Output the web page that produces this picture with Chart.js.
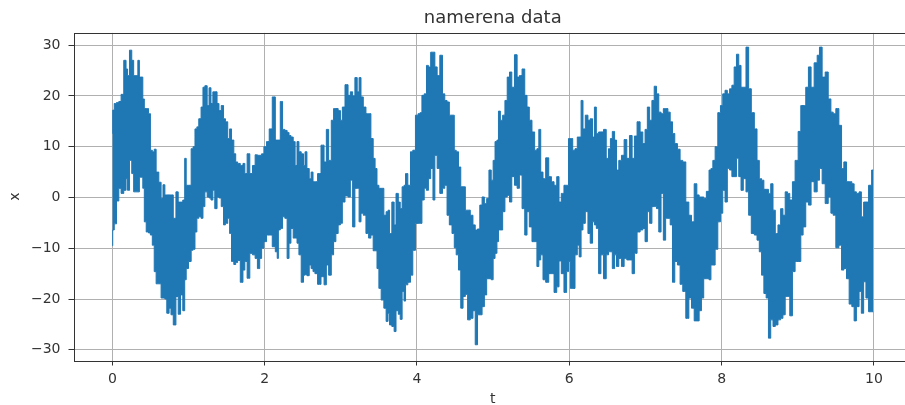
<!DOCTYPE html>
<html>
<head>
<meta charset="utf-8">
<style>
  html, body { margin: 0; padding: 0; background: #fff; overflow: hidden; }
  canvas { display: block; filter: blur(0.5px); }
</style>
<script src="https://cdn.jsdelivr.net/npm/chart.js@4"></script>
</head>
<body>
<canvas id="chart" width="985" height="405" style="width:985px;height:405px"></canvas>
<script>
const chartTitle = 'namerena data';
const xTicks = [0, 2, 4, 6, 8, 10];
const yTicks = [-30, -20, -10, 0, 10, 20, 30];

// for each time, the top and the bottom of the noise band
const tValues = [
  0,.01,.04,.07,.1,.13,.17,.19,.21,.24,
  .27,.29,.32,.35,.36,.39,.41,.43,.46,.49,
  .51,.54,.56,.59,.63,.65,.68,.7,.73,.76,
  .78,.82,.85,.88,.91,.94,.96,.98,1.02,1.05,
  1.07,1.1,1.12,1.15,1.18,1.2,1.23,1.26,1.28,1.31,
  1.33,1.36,1.39,1.41,1.45,1.47,1.5,1.53,1.55,1.58,
  1.61,1.63,1.66,1.7,1.73,1.75,1.79,1.82,1.86,1.89,
  1.92,1.95,1.97,2.01,2.04,2.08,2.12,2.16,
  2.17,2.19,2.22,2.25,2.28,2.31,2.33,2.36,2.39,2.41,
  2.44,2.46,2.5,2.52,2.54,2.57,2.6,2.62,2.65,2.67,
  2.72,2.76,2.8,2.82,2.86,2.89,2.92,2.95,2.98,3.01,
  3.03,3.08,3.11,3.14,3.17,3.2,3.23,3.25,3.28,3.31,
  3.35,3.38,3.41,3.44,3.46,3.49,3.51,3.55,3.58,3.61,
  3.63,3.65,3.69,3.71,3.74,3.77,3.79,3.82,3.84,3.86,
  3.9,3.93,3.96,4,4.03,4.05,4.08,4.11,4.14,4.16,
  4.2,4.22,4.25,4.28,4.32,4.35,4.38,4.41,4.44,4.48,
  4.5,4.53,4.56,4.59,4.62,4.65,4.68,4.72,4.75,4.78,
  4.81,4.84,4.87,4.9,4.93,4.96,
  4.99,5.01,5.04,5.06,5.08,5.11,5.14,5.17,5.2,5.23,
  5.26,5.3,5.33,5.36,5.4,5.43,5.46,5.49,5.53,5.56,
  5.59,5.61,5.64,5.67,5.71,5.75,5.78,5.82,5.85,5.88,
  5.91,5.95,5.98,6,6.03,6.06,6.09,6.12,6.14,6.17,
  6.19,6.23,6.26,6.29,6.32,6.34,6.37,6.4,6.43,6.47,
  6.5,6.53,6.55,6.58,6.61,6.63,6.67,6.7,6.74,6.77,
  6.81,6.84,6.87,6.91,6.95,6.98,7.01,7.04,7.07,7.1,
  7.13,7.16,7.19,7.22,7.25,7.28,7.31,7.34,7.37,7.4,
  7.44,7.47,7.51,7.55,7.59,7.62,7.66,7.69,
  7.72,7.75,7.78,7.82,7.85,7.87,7.9,7.93,7.97,8,
  8.03,8.06,8.09,8.12,8.15,8.18,8.21,8.24,8.27,8.3,
  8.34,8.37,8.41,8.45,8.48,8.51,8.54,8.57,8.6,8.63,
  8.66,8.69,8.72,8.76,8.79,8.82,8.85,8.88,8.91,8.95,
  8.98,9.03,9.05,9.09,9.12,9.16,9.19,9.24,9.27,9.3,
  9.34,9.38,9.42,9.45,9.48,9.52,9.56,9.59,9.62,9.66,
  9.69,9.73,9.75,9.79,9.82,9.85,9.88,9.91,9.95,9.99
];
const xUpper = [
  12.6,17.2,18.5,18.7,18.9,20.3,27,25.3,24,29,
  27,24,24,27,23.7,23.7,19.4,17.5,17.5,16.5,
  9.3,9,9.5,5,3,-0.2,2.5,0.5,0.5,0.5,
  0.5,-4.1,1.1,-0.9,-0.9,-0.5,7.7,2.4,2.4,9.6,
  10,13.5,13.9,15.5,17.8,21.7,22,18.1,21.6,18.5,
  20.8,20.8,18.5,17.1,18.1,15.5,14.9,11.6,13.5,11.3,
  8.6,7,6.7,6.3,6.7,4.7,8.6,4.7,6.3,8.4,
  8.3,8.3,8.6,10,11,13.5,19.8,11.3,
  11.3,11.3,18.9,13.4,13.2,12.8,12.2,11.9,11,6.3,
  11,9,8.6,6.3,9,5.7,3.7,5,3.1,3.1,
  4.7,10.3,7,13.4,7.3,15.2,17.5,17.5,17.1,15.2,
  17.8,22.2,20.1,20.8,20,23.6,20.8,23.6,19.8,17.8,
  16.5,16.5,11.6,7.7,5.7,2.4,1.8,1.8,-3.5,-2.8,
  -2.5,-7.1,-0.9,-5.4,0.8,-0.9,-2.2,2.1,2.4,4.7,
  2.4,9,9.3,16.2,16.5,16.7,20.1,20.4,26,25.7,
  28.6,28.6,25.7,24,28,20.4,19.1,18.8,16.2,16.2,
  9.3,9,6,2.1,2.1,-2.5,-2.5,-3.5,-5.4,-6.4,
  -6.2,-1.5,0.1,-1.2,-0.2,5.4,
  3.4,7.3,11,11.3,17,15.2,16.2,19.1,23.7,24.7,
  21.7,28.1,23.7,24,25.3,20.1,17.8,15.2,12.9,9.3,
  9.6,13.4,5,3.7,7.8,4.1,3.1,2.4,4.1,-0.9,
  0.8,2.4,2.4,11.6,11.6,9.3,9.6,11.9,11.9,19.1,
  13.5,16.2,15.2,15.5,11.9,17.8,12.6,12.9,12.9,13.4,
  7.7,9.6,11.6,13,11.3,5.4,7.3,8.3,11.4,7.7,
  12.2,7.7,12.1,14.9,12.9,10.6,13.4,17.8,15.2,19.1,
  21.9,20.4,16.8,16.5,17.5,17.5,16.8,14.9,12.6,10.6,
  9.5,7.3,7,-0.9,-3.5,-4.8,2.7,0.5,
  0.1,0.1,-0.2,1.2,5.4,5.7,7.3,10,16.7,18.1,
  20.4,21.1,20.4,21.4,22.1,25.7,28.2,26,21.7,21.7,
  29.6,21.4,16.7,13.5,7.3,3.7,3.4,1.6,1.6,0.8,
  2.7,-2.5,-7.1,-5.4,-2.2,-3.5,1.1,0.8,-0.5,3.1,
  7.3,13,18.1,18.1,21.7,25.7,21.7,26.5,28,29.6,
  23.7,24.7,19.4,16.8,16.5,17.5,14.2,5.7,7,3.1,
  3.1,2.7,1.1,0.8,1.1,-3.8,-0.9,-0.9,2.4,5.4
];
const xLower = [
  -9.5,-6.4,-5.2,-0.7,1.8,0.8,1.4,3.7,1.4,7.3,
  4.7,1.1,1.1,1.1,4,4,1.8,-4.8,-6.8,-7,
  -7.4,-9.4,-14.6,-17,-17,-19.8,-19.8,-20,-22.8,-21.8,
  -23.1,-25.1,-19.5,-23,-19.2,-22.3,-16.2,-14,-12.6,-10.4,
  -10.2,-6.8,-4.1,-3.8,-4.1,-1.8,1.1,0.1,-0.1,-0.5,
  1.4,-2.2,0.1,-0.1,-1.8,-5.4,-5.1,-4.1,-7.1,-12.6,
  -13.2,-12.8,-12.4,-16.7,-14.3,-12.6,-15.9,-11,-11.3,-12,
  -14,-12,-10,-8.7,-7.4,-7.4,-9.7,-10.7,
  -12,-6.4,-6.1,-3.8,-4.1,-12,-9,-6.1,-8,-8,
  -9,-11.3,-16.7,-15.3,-15.2,-15.4,-13.3,-14,-14.6,-15,
  -17.1,-15.6,-17.2,-13.3,-15.3,-11.3,-8.7,-7.1,-5.4,-5.1,
  -0.9,0.3,0.1,3.4,-5.8,1.8,1.8,-4.8,-3.1,-3.5,
  -7.1,-8,-7.4,-10.5,-10.5,-14,-17.9,-20.2,-21.8,-24.4,
  -22.8,-25.1,-25.4,-26.4,-22.3,-23,-24,-18.5,-20.4,-17.2,
  -16.7,-15.3,-10.4,-5.1,-5.1,-5.1,-0.5,1.8,1.4,3.7,
  5.7,-0.5,8.3,5.7,0.8,1.8,2.4,-3.5,-5.4,-7.1,
  -9.9,-11.3,-14.3,-21.8,-19.5,-19.1,-24.1,-23.8,-22.3,-29,
  -23.1,-23.1,-21.5,-19.2,-16,-16,
  -16.2,-12,-11,-8.7,-6.4,-6.4,-2.8,0.1,0.4,-0.9,
  4.1,2.4,1.8,4.4,-2.2,-7.4,-2.8,-5.8,-8.7,-8.7,
  -13.6,-12.3,-11.3,-16.2,-16.7,-15,-15,-18.7,-17.6,-12.5,
  -15,-18.7,-14.6,-12.6,-17.9,-17.9,-11.3,-9.4,-11.7,-6.4,
  -5.1,-2.8,-7.1,-9,-4.8,-5.4,-6.1,-15,-11.3,-16,
  -11.3,-10.7,-10.7,-14,-11.3,-13.6,-12,-13.6,-12,-12.3,
  -12.3,-15,-11,-6.8,-6.4,-6.1,-8.7,-2.8,-5.1,-1.8,
  -1.8,-2.2,-6.8,0.8,-8.4,-4.1,-4.1,-5.4,-16.7,-12.6,
  -13.3,-17.1,-18.5,-23.8,-19.8,-21.8,-24.3,-24.3,
  -22.3,-19.8,-16,-16,-16.2,-13.3,-13.3,-10.2,-4.8,-3.1,
  1.4,-0.9,5.7,5.4,4.1,4.1,7.7,4.1,1.4,3.7,
  1.1,-3.5,-7.1,-7.4,-8.4,-10.7,-15.3,-18.9,-19.8,-27.7,
  -24.1,-25.4,-25.1,-24.1,-23.8,-23.1,-19.5,-19.5,-23.3,-14.6,
  -12.6,-12.6,-7.4,-5.8,-0.9,-1.5,3.1,1.1,3.4,5.7,
  2.7,-1.2,0.1,-3.1,-3.5,-9.9,-9.4,-14.3,-14,-16,
  -21,-21.5,-24.3,-21.5,-18.5,-22.8,-16.6,-19.8,-22.5,-22.5
];

const textColor = '#333333';
const lineColor = '#1f77b4';

// all four spines, so the axis lines themselves are switched off below
const frame = {
  id: 'frame',
  afterDatasetsDraw(chart) {
    const { ctx, chartArea } = chart;
    ctx.save();
    ctx.strokeStyle = textColor;
    ctx.lineWidth = 1;
    ctx.strokeRect(Math.round(chartArea.left) + 0.5, Math.round(chartArea.top) + 0.5,
      Math.round(chartArea.width), Math.round(chartArea.height));
    ctx.restore();
  }
};

const tickFont = { family: '"DejaVu Sans"', size: 14 };

new Chart(document.getElementById('chart'), {
  type: 'line',
  data: {
    datasets: [
      {
        // stepped so the band keeps its spikes, filled down to the lower edge
        data: tValues.map((t, i) => ({ x: t, y: xUpper[i] })),
        borderColor: lineColor,
        backgroundColor: lineColor,
        borderWidth: 1,
        pointRadius: 0,
        stepped: 'middle',
        fill: '+1'
      },
      {
        data: tValues.map((t, i) => ({ x: t, y: xLower[i] })),
        borderColor: lineColor,
        borderWidth: 1,
        pointRadius: 0,
        stepped: 'middle',
        fill: false
      }
    ]
  },
  plugins: [frame],
  options: {
    responsive: false,
    animation: false,
    layout: { padding: { left: 0, right: 73, top: 0, bottom: 0 } },
    plugins: {
      legend: { display: false },
      tooltip: { enabled: false },
      title: {
        display: true,
        fullSize: false,
        text: chartTitle,
        color: textColor,
        font: { family: '"DejaVu Sans"', size: 18, weight: 'normal' },
        padding: { top: 8, bottom: 3.3 }
      }
    },
    scales: {
      x: {
        type: 'linear',
        min: -0.51,
        max: 10.5,
        afterFit(scale) { scale.height = 44.5; },
        afterBuildTicks(scale) { scale.ticks = xTicks.map(v => ({ value: v })); },
        grid: { color: '#b0b0b0', lineWidth: 1, tickColor: textColor, tickLength: 5 },
        border: { display: false },
        ticks: { color: textColor, font: tickFont, padding: 5, maxRotation: 0, autoSkip: false },
        title: { display: true, text: 't', color: textColor, font: tickFont, padding: { top: 0, bottom: -3 } }
      },
      y: {
        min: -32.1,
        max: 32.4,
        afterFit(scale) { scale.width = 73.5; },
        afterBuildTicks(scale) { scale.ticks = yTicks.map(v => ({ value: v })); },
        grid: { color: '#b0b0b0', lineWidth: 1, tickColor: textColor, tickLength: 5 },
        border: { display: false },
        ticks: {
          color: textColor,
          font: tickFont,
          padding: 8,
          autoSkip: false,
          callback: v => String(v).replace('-', '\u2212')
        },
        title: { display: true, text: 'x', color: textColor, font: tickFont, padding: { top: 7, bottom: 0 } }
      }
    }
  }
});
</script>
</body>
</html>
